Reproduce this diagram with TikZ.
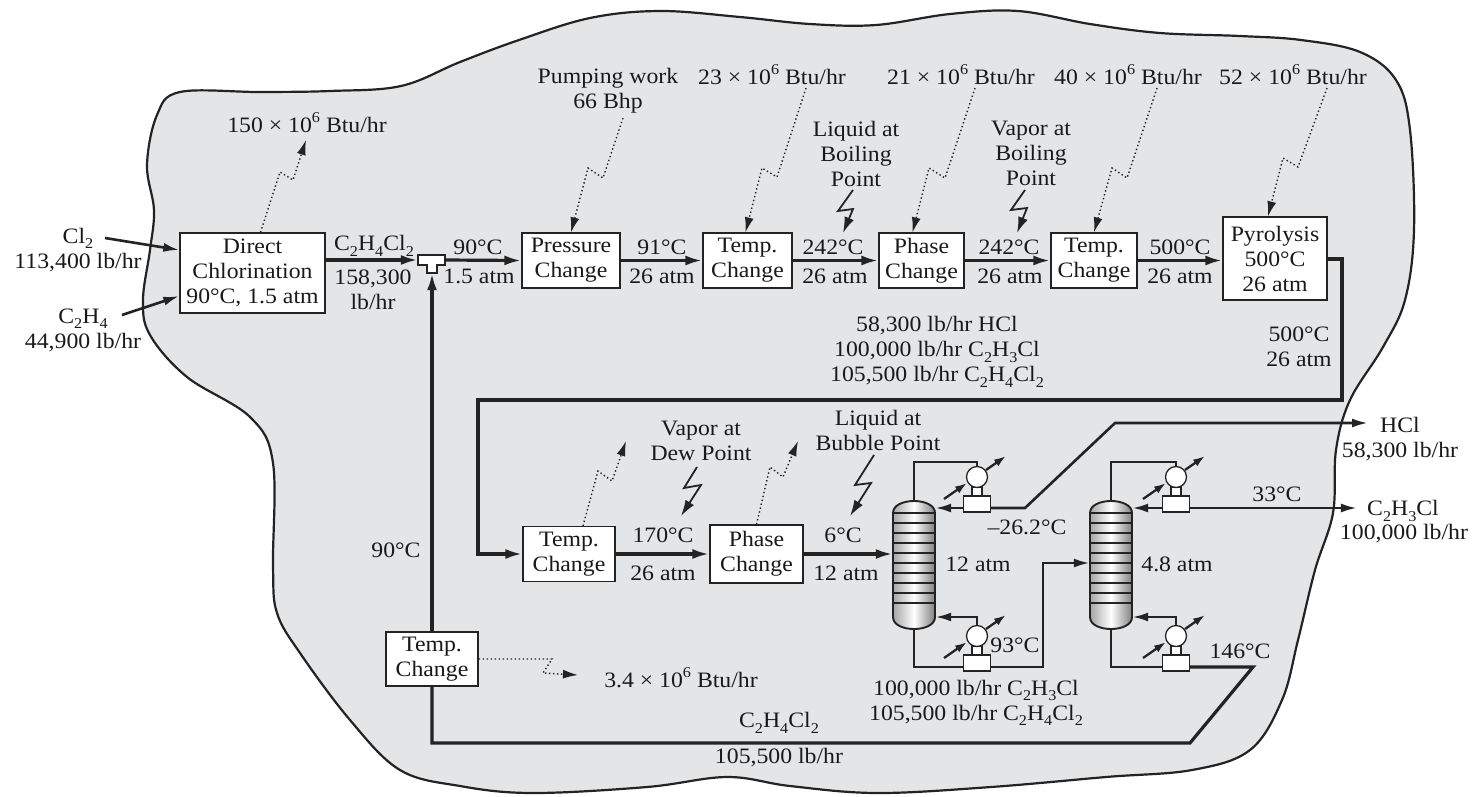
\documentclass[tikz,border=0pt]{standalone}
\usepackage{fontspec}
\setmainfont{Liberation Serif}[FakeStretch=1.08]
\usetikzlibrary{arrows.meta,calc}
\definecolor{blobfill}{RGB}{228,229,231}
\definecolor{ink}{RGB}{35,35,35}
\definecolor{txt}{RGB}{25,25,25}
\newcommand\chs[1]{\raisebox{-0.25em}{\fontsize{15}{15}\selectfont #1}}
\newcommand\chp[1]{\raisebox{0.45em}{\fontsize{15}{15}\selectfont #1}}
\newcommand\lfont{\fontsize{22}{25}\selectfont}
\newcommand\hxunit[3]{%
  \node[hxs] (#1s) at (#2,#3+14.5) {};
  \node[hxb] (#1b) at (#2,#3+27) {};
  \node[hxc] (#1) at (#2,#3) {};
  \draw[hxa] (#2-33,#3+22) -- (#2-10,#3+6);
  \draw[hxa] (#2+9,#3-7) -- (#2+29,#3-21);
}
\newcommand\tower[2]{%
  \path[left color=black!35, right color=black!50, middle color=white, draw=ink, line width=1.9pt]
    (#2,513) .. controls (#2,497) and (#2+42,497) .. (#2+42,513) -- (#2+42,617)
    .. controls (#2+42,633) and (#2,633) .. (#2,617) -- cycle;
  \foreach \yy in {513,523,...,603} \draw[ink, line width=1.4pt] (#2,\yy) -- (#2+42,\yy);
  \node[minimum width=42pt, minimum height=130pt, inner sep=0pt] (#1) at (#2+21,565) {};
}
\begin{document}
\begin{tikzpicture}[x=1pt,y=-1pt,
  lbl/.style={font=\lfont, align=center, inner sep=0pt, text=txt},
  pbox/.style={draw=ink, fill=white, line width=1.3pt, font=\lfont, align=center, inner sep=0pt, text=txt},
  pipe/.style={draw=ink, line width=3.2pt},
  flow/.style={pipe, -{Latex[length=17pt,width=10pt]}},
  pipe2/.style={draw=ink, line width=2.6pt},
  flow2/.style={pipe2, -{Latex[length=16pt,width=9pt]}},
  heat/.style={draw=ink, line width=1.4pt, dash pattern=on 1.4pt off 2.6pt, -{Latex[length=15pt,width=9pt]}},
  bolt/.style={draw=ink, line width=1.8pt, -{Latex[length=16pt,width=10pt]}},
  hxc/.style={circle, draw=ink, fill=white, line width=1.3pt, minimum size=21pt, inner sep=0pt},
  hxs/.style={rectangle, draw=ink, fill=white, line width=1.2pt, minimum width=10pt, minimum height=9pt, inner sep=0pt},
  hxb/.style={rectangle, draw=ink, fill=white, line width=1.2pt, minimum width=27pt, minimum height=16pt, inner sep=0pt},
  hxa/.style={draw=ink, line width=2.3pt, -{Latex[length=12pt,width=8pt]}},
]
\useasboundingbox (0,0) rectangle (1475,796);
% boundary
\filldraw[fill=blobfill, draw=ink, line width=2.2pt] plot[smooth cycle, tension=0.6] coordinates {
 (180,92) (260,92) (330,91) (401,86) (460,62) (519,40) (590,18) (660,11) (740,17) (810,24) (876,25)
 (950,14) (1018,11) (1090,24) (1160,33) (1240,36) (1301,40) (1360,52) (1396,80) (1410,130) (1414,230)
 (1405,300) (1383,347) (1350,400) (1336,450) (1333,513) (1315,570) (1298,640) (1282,700) (1250,750)
 (1192,770) (1106,777) (991,787) (877,793) (790,786) (727,777) (647,787) (532,793) (460,786) (400,770)
 (350,720) (300,653) (277,613) (273,567) (273,463) (250,417) (187,377) (150,335) (143,300) (150,250)
 (154,210) (147,165) (157,115)};

% ---------- top row boxes
\node[pbox, minimum width=145pt, minimum height=80pt] (dc) at (252.5,273) {Direct\\Chlorination\\90°C, 1.5 atm};
\node[pbox, minimum width=98pt, minimum height=55pt] (pc) at (571,260.5) {Pressure\\Change};
\node[pbox, minimum width=89pt, minimum height=55pt] (tc1) at (747.5,260.5) {Temp.\\Change};
\node[pbox, minimum width=85pt, minimum height=55pt] (ph1) at (921.5,260.5) {Phase\\Change};
\node[pbox, minimum width=86pt, minimum height=55pt] (tc2) at (1094,260.5) {Temp.\\Change};
\node[pbox, minimum width=104pt, minimum height=83pt] (pyr) at (1275,258.5) {Pyrolysis\\500°C\\26 atm};
% mixer tee
\node[minimum width=27pt, minimum height=10pt, inner sep=0pt] (mix) at (431.5,260) {};
\node[minimum width=10pt, minimum height=8pt, inner sep=0pt] (mixs) at (432,269) {};
\filldraw[fill=white, draw=ink, line width=1.2pt] (418,255) -- (445,255) -- (445,265) -- (437,265) -- (437,273) -- (427,273) -- (427,265) -- (418,265) -- cycle;

% ---------- lower row boxes
\node[pbox, minimum width=92pt, minimum height=55pt] (tc3) at (569,554) {Temp.\\Change};
\node[pbox, minimum width=93pt, minimum height=58pt] (ph2) at (756.5,554) {Phase\\Change};
\node[pbox, minimum width=92pt, minimum height=54pt] (tc4) at (432,659) {Temp.\\Change};

% ---------- labels
\node[lbl] (cl2) at (78,250) {Cl\chs{2}\\113,400 lb/hr};
\node[lbl] (c2h4) at (83,330) {C\chs{2}H\chs{4}\\44,900 lb/hr};
\node[lbl] (edc) at (374,246) {C\chs{2}H\chs{4}Cl\chs{2}};
\node[lbl] (edcf) at (373,290) {158,300\\lb/hr};
\node[lbl] (s1t) at (478,247) {90°C};
\node[lbl] (s1p) at (479,276) {1.5 atm};
\node[lbl] (s2t) at (662,247) {91°C};
\node[lbl] (s2p) at (662,276) {26 atm};
\node[lbl] (s3t) at (833,247) {242°C};
\node[lbl] (s3p) at (835,276) {26 atm};
\node[lbl] (s4t) at (1009,247) {242°C};
\node[lbl] (s4p) at (1010,276) {26 atm};
\node[lbl] (s5t) at (1180,247) {500°C};
\node[lbl] (s5p) at (1180,276) {26 atm};
\node[lbl] (s6) at (1299,347) {500°C\\26 atm};
\node[lbl] (mixture) at (937,352) {58,300 lb/hr HCl\\100,000 lb/hr C\chs{2}H\chs{3}Cl\\105,500 lb/hr C\chs{2}H\chs{4}Cl\chs{2}};

\node[lbl] (q150) at (307,123) {150 × 10\chp{6} Btu/hr};
\node[lbl] (pw) at (608,91) {Pumping work\\66 Bhp};
\node[lbl] (q23) at (772,75) {23 × 10\chp{6} Btu/hr};
\node[lbl] (q21) at (961,75) {21 × 10\chp{6} Btu/hr};
\node[lbl] (q40) at (1128,75) {40 × 10\chp{6} Btu/hr};
\node[lbl] (q52) at (1293,75) {52 × 10\chp{6} Btu/hr};
\node[lbl] (lbp) at (856,154) {Liquid at\\Boiling\\Point};
\node[lbl] (vbp) at (1031,153) {Vapor at\\Boiling\\Point};

\node[lbl] (vdp) at (701,441) {Vapor at\\Dew Point};
\node[lbl] (lbub) at (878,430) {Liquid at\\Bubble Point};
\node[lbl] (s7t) at (663,535) {170°C};
\node[lbl] (s7p) at (663,573) {26 atm};
\node[lbl] (s8t) at (843,535) {6°C};
\node[lbl] (s8p) at (846,573) {12 atm};
\node[lbl] (p1) at (978,564) {12 atm};
\node[lbl] (p2) at (1177,564) {4.8 atm};
\node[lbl] (t1) at (1027,527) {–26.2°C};
\node[lbl] (t2) at (1015,645) {93°C};
\node[lbl] (t3) at (1240,651) {146°C};
\node[lbl] (t4) at (1277,494) {33°C};
\node[lbl] (btm) at (976,703) {100,000 lb/hr C\chs{2}H\chs{3}Cl\\105,500 lb/hr C\chs{2}H\chs{4}Cl\chs{2}};
\node[lbl] (hcl) at (1400,425) {HCl};
\node[lbl] (hclf) at (1400,452) {58,300 lb/hr};
\node[lbl] (vcm) at (1403,511) {C\chs{2}H\chs{3}Cl};
\node[lbl] (vcmf) at (1404,534) {100,000 lb/hr};
\node[lbl] (t5) at (396,550) {90°C};
\node[lbl] (q34) at (681,678) {3.4 × 10\chp{6} Btu/hr};
\node[lbl] (rec) at (779,723) {C\chs{2}H\chs{4}Cl\chs{2}};
\node[lbl] (recf) at (779,758) {105,500 lb/hr};

% ---------- columns and exchangers
\tower{col1}{893}
\tower{col2}{1090}
\hxunit{cd1}{977}{477}
\hxunit{rb1}{977}{636}
\hxunit{cd2}{1176}{477}
\hxunit{rb2}{1176}{636}

% ---------- feed arrows
\coordinate (cl2s) at (105,238);
\coordinate (c2h4s) at (122,315);
\draw[flow2] (cl2s) -- (dc.west |- 0,250);
\draw[flow2] (c2h4s) -- (dc.west |- 0,296);

% ---------- main top line
\draw[flow] (dc.east |- mix) -- (mix.west);
\draw[flow] (mix.east) -- (pc.west);
\draw[flow] (pc.east) -- (tc1.west);
\draw[flow] (tc1.east) -- (ph1.west);
\draw[flow] (ph1.east) -- (tc2.west);
\draw[flow] (tc2.east) -- (pyr.west |- tc2.east);
\draw[flow] (pyr.east |- 0,259) -- (1342,259) -- (1342,400) -- (478,400) -- (478,554) -- (tc3.west);
\draw[flow] (tc3.east) -- (ph2.west);
\draw[flow] (ph2.east) -- (col1.west |- ph2.east);

% ---------- column 1 loops
\draw[pipe2] (col1.north) -- (914,462) -- (977,462) -- (cd1.north);
\draw[flow2] (cd1b.west |- 0,508) -- (col1.east |- 0,508);
\draw[flow2] (cd1b.east |- 0,508) -- (1025,508) -- (1115,423) -- ([shift={(-12,0)}]hcl.west |- 0,423);
\draw[pipe2] (col1.south) -- (914,667) -- (rb1b.west |- 0,667);
\draw[flow2] (rb1.north) -- (977,617) -- (col1.east |- 0,617);
\draw[flow2] (rb1b.east |- 0,667) -- (1043,667) -- (1043,563) -- (col2.west |- 0,563);
% ---------- column 2 loops
\draw[pipe2] (col2.north) -- (1111,462) -- (1176,462) -- (cd2.north);
\draw[flow2] (cd2b.west |- 0,508) -- (col2.east |- 0,508);
\draw[flow2] (cd2b.east |- 0,508) -- ([shift={(-10,0)}]vcm.west |- 0,508);
\draw[pipe2] (col2.south) -- (1111,667) -- (rb2b.west |- 0,667);
\draw[flow2] (rb2.north) -- (1176,617) -- (col2.east |- 0,617);
% ---------- recycle
\draw[pipe] (rb2b.east |- 0,667) -- (1253,667) -- (1190,743) -- (432,743) -- (tc4.south);
\draw[flow] (tc4.north) -- (mixs.south);

% ---------- heat / work arrows
\coordinate (e150) at (306,140);
\draw[heat] ([shift={(8,0)}]dc.north) -- (280,172) -- (293,180) -- (e150);
\coordinate (spw) at (623,118);
\draw[heat] (spw) -- (603,178) -- (588,168) -- (pc.north);
\coordinate (s23) at (806,88);
\draw[heat] (s23) -- (777,177) -- (762,168) -- ([shift={(-2,0)}]tc1.north);
\coordinate (s21) at (975,88);
\draw[heat] (s21) -- (945,178) -- (929,168) -- ([shift={(-9,0)}]ph1.north);
\coordinate (s40) at (1157,88);
\draw[heat] (s40) -- (1127,178) -- (1112,168) -- (tc2.north);
\coordinate (s52) at (1327,88);
\draw[heat] (s52) -- (1298,167) -- (1283,158) -- ([shift={(-7,0)}]pyr.north);
\coordinate (e7) at (626,441);
\draw[heat] ([shift={(14,0)}]tc3.north) -- (598,471) -- (612,481) -- (e7);
\coordinate (e8) at (798,441);
\draw[heat] (ph2.north) -- (770,467) -- (783,477) -- (e8);
\coordinate (e34) at (578,675);
\draw[heat] (tc4.east) -- (552,659) -- (543,673) -- (e34);

% ---------- state bolts
\coordinate (b1) at (853,190); \coordinate (b1e) at (843,233);
\draw[bolt] (b1) -- (838,211) -- (853,209) -- (b1e);
\coordinate (b2) at (1025,190); \coordinate (b2e) at (1017,233);
\draw[bolt] (b2) -- (1011,210) -- (1027,208) -- (b2e);
\coordinate (b3) at (697,467); \coordinate (b3e) at (681,516);
\draw[bolt] (b3) -- (684,488) -- (701,485) -- (b3e);
\coordinate (b4) at (874,455); \coordinate (b4e) at (850,516);
\draw[bolt] (b4) -- (855,485) -- (871,483) -- (b4e);
\end{tikzpicture}
\end{document}
